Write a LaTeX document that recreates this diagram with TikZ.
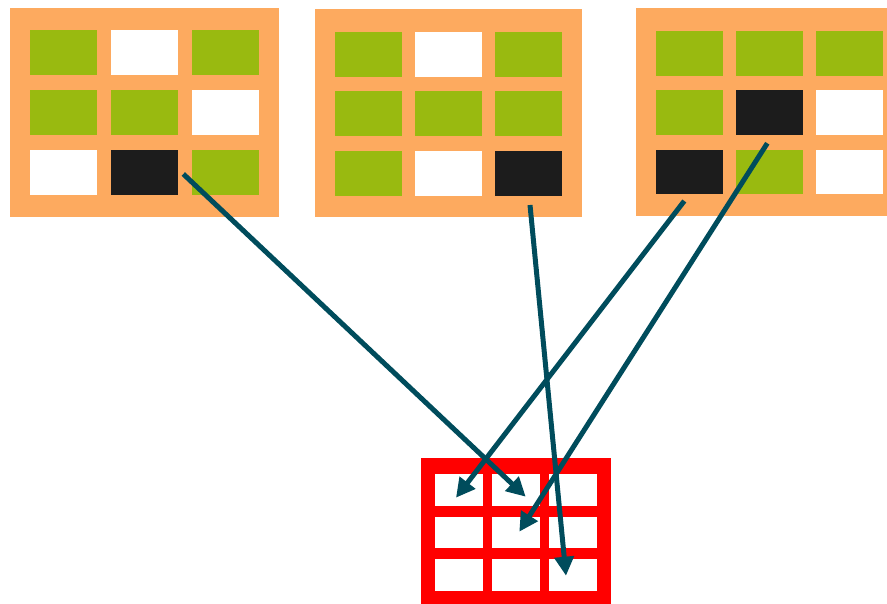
\documentclass[tikz,border=0pt]{standalone}
\usetikzlibrary{arrows.meta,calc}
\definecolor{orng}{HTML}{FDAA5F}
\definecolor{grn}{HTML}{99BA10}
\definecolor{blk}{HTML}{1C1C1C}
\definecolor{teal2}{HTML}{004C5C}
\definecolor{redd}{HTML}{FF0000}
\begin{document}
\begin{tikzpicture}[x=1pt,y=-1pt,
  panel/.style={fill=orng,draw=none},
  cellbox/.style={minimum width=67pt,minimum height=44.5pt,inner sep=0pt,outer sep=0pt,anchor=north west,draw=none},
  G/.style={cellbox,fill=grn},
  W/.style={cellbox,fill=white},
  B/.style={cellbox,fill=blk},
  rcell/.style={minimum width=47.7pt,minimum height=31.6pt,inner sep=0pt,outer sep=0pt,anchor=north west,fill=white,draw=none},
  conn/.style={draw=teal2,line width=5pt,-{Triangle[length=19pt,width=19pt]}}]
\useasboundingbox (0,0) rectangle (887,603);
% panel 1
\fill[panel] (10.3,7.7) rectangle (279,217);
\node[G] (g1c11) at (30.3,30.3) {};
\node[W] (g1c12) at (111,30.3) {};
\node[G] (g1c13) at (192,30.3) {};
\node[G] (g1c21) at (30.3,90) {};
\node[G] (g1c22) at (111,90) {};
\node[W] (g1c23) at (192,90) {};
\node[W] (g1c31) at (30.3,150) {};
\node[B] (g1c32) at (111,150) {};
\node[G] (g1c33) at (192,150) {};
% panel 2
\fill[panel] (315,9.3) rectangle (581.7,217.3);
\node[G] (g2c11) at (335,32) {};
\node[W] (g2c12) at (415,32) {};
\node[G] (g2c13) at (495,32) {};
\node[G] (g2c21) at (335,91.3) {};
\node[G] (g2c22) at (415,91.3) {};
\node[G] (g2c23) at (495,91.3) {};
\node[G] (g2c31) at (335,151) {};
\node[W] (g2c32) at (415,151) {};
\node[B] (g2c33) at (495,151) {};
% panel 3
\fill[panel] (635.7,8.3) rectangle (890,216);
\node[G] (g3c11) at (655.7,31) {};
\node[G] (g3c12) at (735.7,31) {};
\node[G] (g3c13) at (815.7,31) {};
\node[G] (g3c21) at (655.7,90) {};
\node[B] (g3c22) at (735.7,90) {};
\node[W] (g3c23) at (815.7,90) {};
\node[B] (g3c31) at (655.7,149.7) {};
\node[G] (g3c32) at (735.7,149.7) {};
\node[W] (g3c33) at (815.7,149.7) {};
% red table
\fill[redd] (421,458.3) rectangle (611,606);
\node[rcell] (r11) at (435,474.3) {};
\node[rcell] (r12) at (492,474.3) {};
\node[rcell] (r13) at (549,474.3) {};
\node[rcell] (r21) at (435,516.7) {};
\node[rcell] (r22) at (492,516.7) {};
\node[rcell] (r23) at (549,516.7) {};
\node[rcell] (r31) at (435,559) {};
\node[rcell] (r32) at (492,559) {};
\node[rcell] (r33) at (549,559) {};
% connectors
\draw[conn] ($(g1c32.center)+(38.8,1.75)$) -- ($(r12.center)+(9.85,6.6)$);
\draw[conn] ($(g2c33.center)+(1.5,31.75)$) -- ($(r33.center)+(-6.85,0.9)$);
\draw[conn] ($(g3c31.center)+(-4.9,29)$) -- ($(r11.center)+(-2.85,7.6)$);
\draw[conn] ($(g3c22.center)+(-1.9,31)$) -- ($(r22.center)+(3.45,-0.8)$);
\end{tikzpicture}
\end{document}
